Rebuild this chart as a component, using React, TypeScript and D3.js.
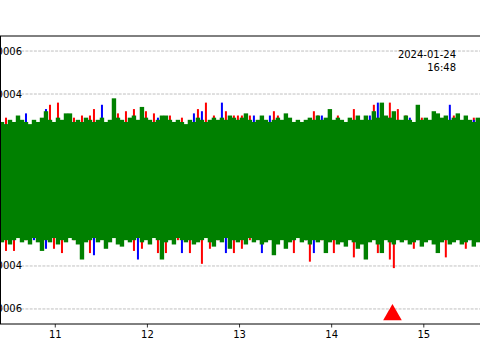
import React from 'react';
import * as d3 from 'd3';

// three overlapping components, values read per 4px column (units of 1e-5)
const UNIT = 1e-5;
const startMinute = 10.4;
const binMinutes = 0.0434;

const greenMax = [
  27, 26, 28, 27, 30, 28, 27, 26, 28, 27,
  29, 32, 28, 27, 29, 28, 31, 31, 27, 28,
  27, 29, 28, 27, 28, 29, 27, 28, 38, 29,
  28, 27, 29, 30, 28, 34, 29, 28, 27, 28,
  30, 30, 28, 27, 28, 27, 26, 28, 27, 29,
  28, 27, 28, 29, 28, 29, 28, 30, 29, 28,
  29, 31, 28, 27, 28, 30, 28, 27, 28, 29,
  28, 31, 29, 27, 28, 27, 28, 29, 28, 30,
  28, 29, 33, 28, 29, 28, 27, 29, 28, 30,
  28, 30, 28, 32, 29, 36, 30, 29, 32, 28,
  28, 30, 28, 27, 35, 28, 29, 28, 32, 31,
  29, 30, 28, 29, 31, 28, 30, 28, 27, 29,
];
const greenMin = [
  -29, -28, -30, -28, -27, -29, -28, -30, -27, -29,
  -33, -28, -29, -27, -30, -28, -29, -27, -28, -30,
  -37, -29, -28, -27, -29, -28, -32, -29, -27, -30,
  -31, -28, -29, -28, -27, -29, -28, -30, -27, -28,
  -37, -29, -28, -30, -27, -28, -29, -28, -30, -29,
  -28, -27, -29, -31, -28, -29, -27, -32, -28, -29,
  -28, -30, -27, -29, -28, -30, -29, -28, -35, -30,
  -28, -32, -29, -28, -27, -29, -28, -30, -28, -29,
  -28, -34, -29, -28, -30, -29, -31, -28, -29, -32,
  -30, -37, -29, -28, -30, -34, -28, -29, -30, -28,
  -29, -28, -30, -29, -28, -31, -29, -28, -30, -34,
  -29, -28, -30, -29, -28, -30, -29, -28, -31, -29,
];
const redMax = [
  25, 29, 26, 24, 27, 25, 26, 24, 25, 26,
  27, 25, 35, 26, 36, 25, 24, 26, 29, 25,
  30, 26, 30, 33, 25, 26, 24, 27, 25, 31,
  26, 32, 25, 33, 26, 25, 32, 24, 31, 26,
  25, 26, 30, 24, 26, 29, 25, 26, 24, 33,
  26, 36, 25, 30, 26, 25, 32, 26, 30, 30,
  30, 25, 30, 26, 24, 29, 25, 26, 32, 30,
  25, 26, 24, 27, 25, 26, 24, 26, 32, 30,
  26, 25, 27, 24, 30, 26, 25, 24, 33, 26,
  25, 26, 24, 35, 26, 25, 27, 36, 26, 33,
  25, 30, 24, 26, 25, 29, 26, 24, 25, 26,
  27, 24, 25, 30, 26, 25, 24, 26, 29, 25,
];
const redMin = [
  -27, -33, -26, -33, -27, -25, -28, -26, -27, -25,
  -26, -27, -28, -32, -26, -34, -27, -25, -28, -26,
  -27, -26, -34, -28, -25, -27, -26, -28, -27, -26,
  -25, -27, -28, -33, -26, -32, -27, -28, -26, -34,
  -27, -34, -26, -27, -28, -25, -26, -34, -27, -26,
  -39, -27, -32, -26, -28, -27, -26, -25, -34, -27,
  -32, -26, -28, -27, -25, -26, -28, -27, -26, -25,
  -27, -26, -28, -34, -27, -26, -28, -38, -26, -27,
  -28, -26, -27, -34, -26, -28, -25, -27, -36, -26,
  -27, -28, -26, -25, -34, -27, -26, -37, -41, -27,
  -26, -28, -27, -32, -26, -25, -28, -27, -26, -28,
  -27, -36, -26, -28, -27, -26, -32, -27, -28, -26,
];
const blueMax = [
  25, 26, 24, 26, 25, 27, 31, 25, 24, 26,
  25, 33, 26, 24, 25, 27, 26, 25, 24, 26,
  25, 27, 26, 24, 26, 35, 25, 26, 24, 27,
  26, 25, 24, 26, 27, 25, 26, 24, 25, 29,
  26, 24, 25, 27, 26, 25, 24, 26, 31, 25,
  32, 26, 25, 24, 27, 36, 26, 25, 24, 26,
  25, 27, 26, 30, 25, 24, 26, 30, 25, 26,
  24, 27, 26, 25, 24, 26, 25, 27, 24, 26,
  30, 25, 26, 24, 27, 25, 26, 24, 25, 26,
  27, 25, 30, 26, 36, 24, 25, 27, 26, 25,
  24, 26, 29, 25, 27, 24, 26, 25, 24, 26,
  25, 27, 35, 24, 26, 25, 24, 26, 28, 25,
];
const blueMin = [
  -26, -27, -25, -28, -26, -27, -25, -26, -28, -27,
  -26, -32, -27, -25, -28, -26, -27, -26, -25, -28,
  -27, -26, -25, -35, -27, -26, -28, -25, -27, -26,
  -28, -27, -26, -25, -37, -27, -26, -28, -25, -27,
  -26, -28, -27, -25, -26, -34, -27, -28, -26, -25,
  -27, -26, -28, -25, -27, -26, -34, -27, -28, -26,
  -25, -27, -26, -28, -27, -34, -26, -25, -27, -28,
  -26, -27, -25, -28, -26, -27, -28, -25, -34, -26,
  -27, -28, -26, -25, -27, -28, -26, -27, -25, -26,
  -28, -27, -26, -25, -27, -28, -26, -25, -27, -26,
  -28, -27, -25, -26, -28, -27, -26, -25, -28, -27,
  -26, -25, -27, -28, -26, -27, -25, -28, -26, -27,
];

const xTicks = [11, 12, 13, 14, 15];
const yTicks = [-0.0006, -0.0004, -0.0002, 0, 0.0002, 0.0004, 0.0006];
const yTickLabels = ['-0.0006', '-0.0004', '-0.0002', '0.0000', '0.0002', '0.0004', '0.0006'];
const pickTimes = [14.66];
const pickLevels = [-0.000627];
const stampLines = ['2024-01-24', '16:48'];

const font = 'DejaVu Sans, sans-serif';

const App: React.FC = () => {
  const width = 480;
  const height = 360;
  const margin = { top: 36, bottom: 324 };

  const x = d3.scaleLinear().domain([10.4, 15.61]).range([0, width]);
  const y = d3.scaleLinear().domain([-0.00067, 0.00067]).range([margin.bottom, margin.top]);

  const binTimes = greenMax.map((_, i) => startMinute + i * binMinutes);
  const bw = x(startMinute + binMinutes) - x(startMinute);

  const traces = [
    { name: 'red', color: '#ff0000', hi: redMax, lo: redMin, w: 2 },
    { name: 'blue', color: '#0000ff', hi: blueMax, lo: blueMin, w: 2 },
    { name: 'green', color: '#008000', hi: greenMax, lo: greenMin, w: bw + 0.4 },
  ];

  const tri = d3.symbol().type(d3.symbolTriangle).size(150)() || '';

  return (
    <svg width={width} height={height} style={{ position: 'absolute', left: 0, top: 0 }} fontFamily={font}>
      <rect x={0} y={0} width={width} height={height} fill="#fff" />
      <defs>
        <clipPath id="plot">
          <rect x={0} y={margin.top} width={width} height={margin.bottom - margin.top} />
        </clipPath>
      </defs>

      {/* y ticks, labels and grid (under the traces) */}
      {yTicks.map((t, i) => (
        <g key={t}>
          <line x1={0} x2={width} y1={y(t)} y2={y(t)} stroke="#b0b0b0" strokeWidth={0.8} strokeDasharray="2.96,1.28" />
          <line x1={-3.5} x2={0} y1={y(t)} y2={y(t)} stroke="#000" strokeWidth={0.8} />
          <text x={22} y={y(t)} dy="0.35em" textAnchor="end" fontSize={10} fill="#000">
            {yTickLabels[i]}
          </text>
        </g>
      ))}

      <g clipPath="url(#plot)">
        {traces.map(tr => (
          <g key={tr.name} fill={tr.color}>
            {binTimes.map((t, i) => {
              const cx = x(t) + bw / 2;
              return (
                <rect
                  key={i}
                  x={cx - tr.w / 2}
                  y={y(tr.hi[i] * UNIT)}
                  width={tr.w}
                  height={y(tr.lo[i] * UNIT) - y(tr.hi[i] * UNIT)}
                />
              );
            })}
          </g>
        ))}
        {pickTimes.map((t, i) => (
          <path key={i} d={tri} transform={`translate(${x(t)},${y(pickLevels[i])})`} fill="#ff0000" />
        ))}
      </g>

      {/* spines */}
      <line x1={0} x2={width} y1={margin.top} y2={margin.top} stroke="#000" strokeWidth={1} />
      <line x1={0} x2={width} y1={margin.bottom} y2={margin.bottom} stroke="#000" strokeWidth={1} />
      <line x1={0.5} x2={0.5} y1={margin.top} y2={margin.bottom} stroke="#000" strokeWidth={1} />

      {/* x ticks */}
      {xTicks.map(t => (
        <g key={t} transform={`translate(${x(t)},${margin.bottom})`}>
          <line y1={0} y2={3.5} stroke="#000" strokeWidth={0.8} />
          <text y={14} textAnchor="middle" fontSize={10} fill="#000">
            {t}
          </text>
        </g>
      ))}

      {stampLines.map((s, i) => (
        <text key={s} x={456} y={58 + i * 12.5} textAnchor="end" fontSize={10} fill="#000">
          {s}
        </text>
      ))}
    </svg>
  );
};

export default App;
